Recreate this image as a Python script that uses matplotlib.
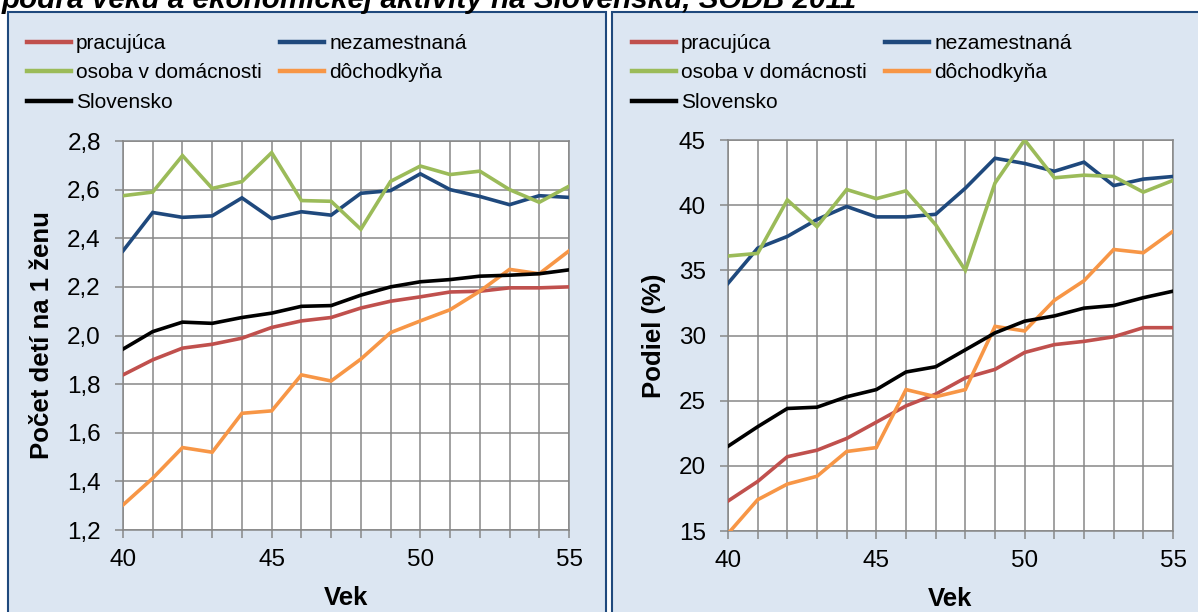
import matplotlib
matplotlib.use("Agg")
import matplotlib.pyplot as plt
from matplotlib.patches import Rectangle
from matplotlib.ticker import FuncFormatter

plt.rcParams["font.family"] = ["Liberation Sans", "DejaVu Sans"]

# vek (x os)
vek = list(range(40, 56))

# lavy graf: pocet deti na 1 zenu
deti_pracujuca = [1.838, 1.900, 1.948, 1.964, 1.989, 2.033, 2.060, 2.074,
                  2.113, 2.141, 2.159, 2.179, 2.182, 2.196, 2.196, 2.200]
deti_nezamestnana = [2.348, 2.506, 2.486, 2.492, 2.566, 2.481, 2.509, 2.495,
                     2.585, 2.596, 2.665, 2.600, 2.572, 2.538, 2.575, 2.568]
deti_domacnost = [2.575, 2.590, 2.740, 2.605, 2.633, 2.752, 2.555, 2.552,
                  2.437, 2.634, 2.697, 2.662, 2.676, 2.600, 2.548, 2.614]
deti_dochodkyna = [1.303, 1.413, 1.539, 1.520, 1.680, 1.690, 1.838, 1.813,
                   1.903, 2.012, 2.060, 2.106, 2.182, 2.272, 2.254, 2.348]
deti_slovensko = [1.944, 2.016, 2.055, 2.050, 2.074, 2.092, 2.120, 2.123,
                  2.166, 2.200, 2.221, 2.230, 2.244, 2.248, 2.254, 2.270]

# pravy graf: podiel (%)
podiel_pracujuca = [17.3, 18.8, 20.7, 21.2, 22.1, 23.35, 24.6, 25.5,
                    26.75, 27.4, 28.7, 29.3, 29.55, 29.9, 30.6, 30.6]
podiel_nezamestnana = [34.0, 36.7, 37.6, 38.9, 39.9, 39.1, 39.1, 39.3,
                       41.3, 43.6, 43.2, 42.6, 43.3, 41.5, 42.0, 42.2]
podiel_domacnost = [36.1, 36.3, 40.4, 38.35, 41.2, 40.5, 41.1, 38.5,
                    35.0, 41.7, 45.0, 42.1, 42.3, 42.2, 41.0, 41.9]
podiel_dochodkyna = [14.8, 17.4, 18.6, 19.2, 21.1, 21.4, 25.85, 25.3,
                     25.85, 30.7, 30.35, 32.7, 34.2, 36.6, 36.35, 38.0]
podiel_slovensko = [21.5, 23.0, 24.4, 24.5, 25.3, 25.85, 27.2, 27.6,
                    28.9, 30.2, 31.1, 31.5, 32.1, 32.3, 32.9, 33.4]

nazvy = ["pracujúca", "nezamestnaná", "osoba v domácnosti", "dôchodkyňa", "Slovensko"]
farby = ["#C0504D", "#1F497D", "#9BBB59", "#F79646", "#000000"]

W, H = 1198, 612
fig = plt.figure(figsize=(W / 100, H / 100), dpi=100)

# pozadie panelov
for x0, x1 in [(8, 606), (612, 1210)]:
    fig.patches.append(Rectangle((x0 / W, -0.1), (x1 - x0) / W, (H - 12) / H + 0.1,
                                 transform=fig.transFigure, facecolor="#DCE6F2",
                                 edgecolor="#1F497D", linewidth=1.5, zorder=-5))

fig.text(2 / W, 1 - 8 / H, "podľa veku a ekonomickej aktivity na Slovensku, SODB 2011",
         fontsize=21.3, fontweight="bold", fontstyle="italic", va="baseline", ha="left")


def kresli(rect, data, ylim, ystep, fmt, ylabel, ylab_x, leg_x):
    ax = fig.add_axes(rect)
    ax.set_facecolor("white")
    lines = []
    for y, c, n in zip(data, farby, nazvy):
        ln, = ax.plot(vek, y, color=c, lw=2.6, label=n, solid_joinstyle="miter", zorder=3)
        lines.append(ln)
    ax.set_xlim(40, 55)
    ax.set_ylim(*ylim)
    ax.set_xticks(vek)
    ax.set_xticklabels([str(v) if v % 5 == 0 else "" for v in vek])
    yt = []
    v = ylim[0]
    while v <= ylim[1] + 1e-9:
        yt.append(round(v, 2))
        v += ystep
    ax.set_yticks(yt)
    ax.yaxis.set_major_formatter(FuncFormatter(fmt))
    ax.grid(True, color="#878787", lw=1.1)
    ax.set_axisbelow(True)
    for s in ax.spines.values():
        s.set_color("#878787")
        s.set_linewidth(1.1)
    ax.tick_params(axis="both", colors="#878787", labelcolor="black", labelsize=17.5,
                   length=6, width=1.1)
    ax.tick_params(axis="x", pad=8)
    ax.tick_params(axis="y", pad=10)
    ax.set_xlabel("Vek", fontsize=18.5, fontweight="bold")
    ax.xaxis.set_label_coords(0.5, -0.143)
    ax.set_ylabel(ylabel, fontsize=18.5, fontweight="bold")
    ax.yaxis.set_label_coords(ylab_x, 0.5)
    poradie = [0, 2, 4, 1, 3]
    leg = fig.legend([lines[i] for i in poradie], [nazvy[i] for i in poradie],
                     ncol=2, loc="upper left", bbox_to_anchor=(leg_x / W, 1 - 34 / H),
                     frameon=False, fontsize=15, handlelength=2.1, handletextpad=0.25,
                     labelspacing=0.5, columnspacing=0.9, borderaxespad=0, borderpad=0)
    for h in leg.legend_handles:
        h.set_linewidth(3.2)
    return ax


kresli([123 / W, 82 / H, 446 / W, 389 / H],
       [deti_pracujuca, deti_nezamestnana, deti_domacnost, deti_dochodkyna, deti_slovensko],
       (1.2, 2.8), 0.2, lambda v, p: f"{v:.1f}".replace(".", ","),
       "Počet detí na 1 ženu", -0.155, 27)

kresli([728 / W, 81 / H, 445 / W, 391 / H],
       [podiel_pracujuca, podiel_nezamestnana, podiel_domacnost, podiel_dochodkyna, podiel_slovensko],
       (15, 45), 5, lambda v, p: f"{v:.0f}",
       "Podiel (%)", -0.14, 632)

fig.savefig("out.png", dpi=100)
